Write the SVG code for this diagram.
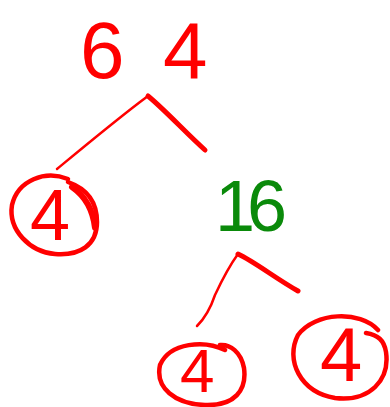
<svg xmlns="http://www.w3.org/2000/svg" width="390" height="407" viewBox="0 0 390 407">
<style>
.red{fill:#ff0000;}
.green{fill:#0a8a0a;}
.num{font-family:"Liberation Sans",Arial,sans-serif;}
.ring{fill:none;stroke:#ff0000;stroke-linecap:round;stroke-linejoin:round;}
.line{fill:none;stroke:#ff0000;stroke-linecap:round;stroke-linejoin:round;}
</style>
<rect width="390" height="407" fill="#ffffff"/>
<g id="connectors">
<path class="line" stroke-width="2.5" d="M57,169 C80,150 110,125 140,102 L148,96"/>
<path class="line" stroke-width="5" d="M148,96 C165,110 185,132 205,150"/>
<path class="line" stroke-width="2.5" d="M197,326 C205,318 210,310 215,295 C222,280 230,265 238,254"/>
<path class="line" stroke-width="5" d="M238,254 C255,262 275,278 298,291"/>
</g>
<g id="node-64">
<text class="num red" x="80" y="78" font-size="80">6<tspan x="163">4</tspan></text>
</g>
<g id="node-4-left">
<path class="ring" stroke-width="4.5" d="M68,179 C45,170 18,180 12,205 C8,230 30,252 55,254 C80,256 97,245 97,222 C97,200 85,188 68,182"/>
<path class="ring" stroke-width="6" d="M72,187 C85,196 93,210 95,228"/>
<text class="num red" x="30" y="240" font-size="72">4</text>
</g>
<g id="node-16">
<text class="num green" x="247" y="231" font-size="72" text-anchor="middle" letter-spacing="-8">16</text>
</g>
<g id="node-4-bottom-left">
<path class="ring" stroke-width="4.5" d="M225,350 C205,340 170,342 160,365 C155,388 175,404 205,405 C235,406 247,390 244,368 C241,352 230,344 220,345"/>
<text class="num red" x="180" y="392" font-size="62">4</text>
</g>
<g id="node-4-right">
<path class="ring" stroke-width="4.5" d="M378,330 C360,310 315,312 298,335 C285,360 300,392 335,398 C370,402 390,380 386,352 C384,340 378,335 366,333"/>
<text class="num red" x="320" y="381" font-size="76">4</text>
</g>
</svg>
